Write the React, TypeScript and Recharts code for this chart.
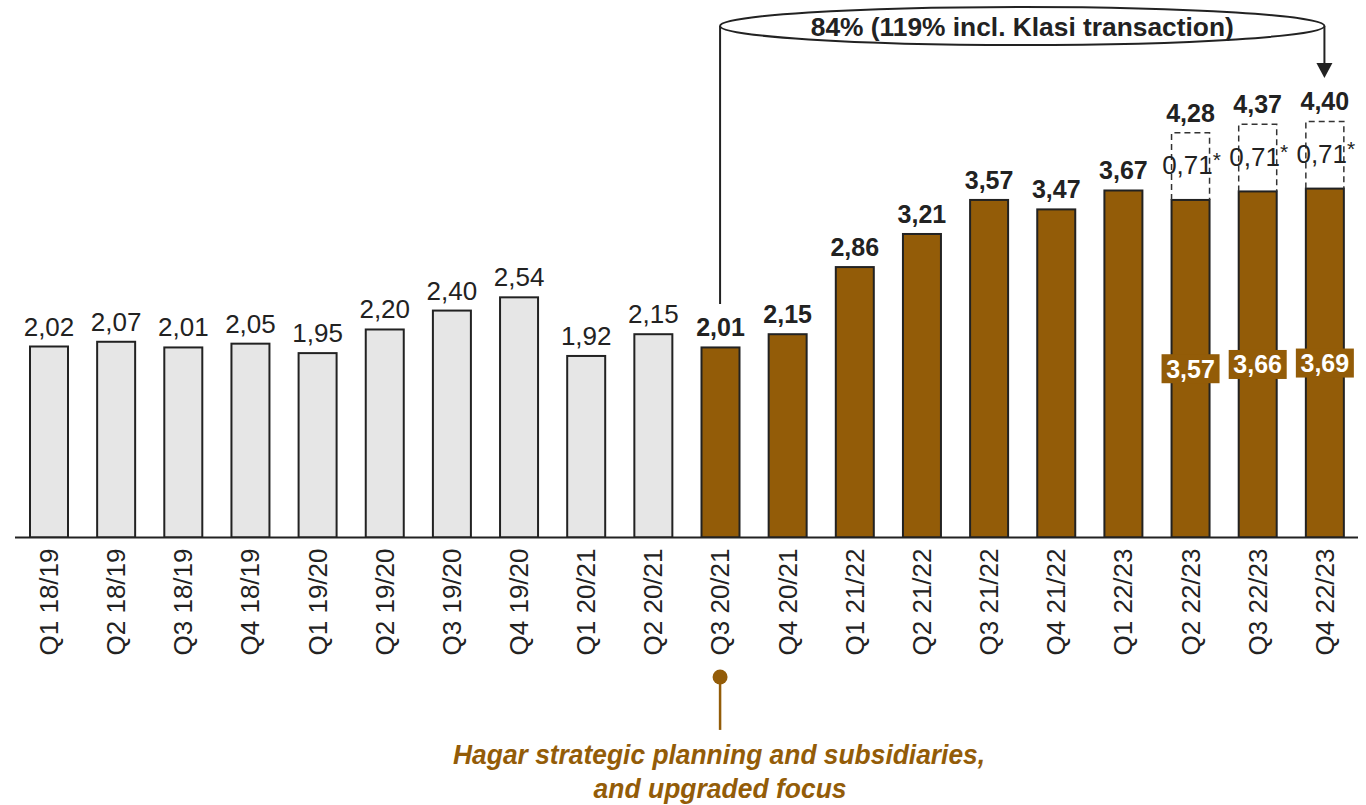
import React from 'react';
import { BarChart, Bar, XAxis, YAxis, ReferenceLine } from 'recharts';

const quarters = [
  'Q1 18/19', 'Q2 18/19', 'Q3 18/19', 'Q4 18/19',
  'Q1 19/20', 'Q2 19/20', 'Q3 19/20', 'Q4 19/20',
  'Q1 20/21', 'Q2 20/21', 'Q3 20/21', 'Q4 20/21',
  'Q1 21/22', 'Q2 21/22', 'Q3 21/22', 'Q4 21/22',
  'Q1 22/23', 'Q2 22/23', 'Q3 22/23', 'Q4 22/23',
];
const baseValues = [
  2.02, 2.07, 2.01, 2.05, 1.95, 2.2, 2.4, 2.54, 1.92, 2.15,
  2.01, 2.15, 2.86, 3.21, 3.57, 3.47, 3.67, 3.57, 3.66, 3.69,
];
const klasiValues: (number | null)[] = [
  null, null, null, null, null, null, null, null, null, null,
  null, null, null, null, null, null, null, 0.71, 0.71, 0.71,
];
const focusFlags = [
  false, false, false, false, false, false, false, false, false, false,
  true, true, true, true, true, true, true, true, true, true,
];
const growthLabel = '84% (119% incl. Klasi transaction)';
const noteLines = ['Hagar strategic planning and subsidiaries,', 'and upgraded focus'];
const startQuarter = 'Q3 20/21';
const endQuarter = 'Q4 22/23';

const data = quarters.map((q, i) => ({
  quarter: q,
  base: baseValues[i],
  klasi: klasiValues[i],
  focus: focusFlags[i],
  total: baseValues[i] + (klasiValues[i] ?? 0),
}));

const BROWN = '#935C08';
const GRAY = '#E6E6E6';
const DARK = '#222222';
const FONT = '"Liberation Sans", Arial, Helvetica, sans-serif';

const fmt = (v: number) => v.toFixed(2).replace('.', ',');

const BaseShape = (props: any) => {
  const { x, y, width, height, payload } = props;
  if (payload == null) return <g />;
  const fill = payload.focus ? BROWN : GRAY;
  const cx = x + width / 2;
  const stacked = payload.klasi != null;
  const mid = y + height / 2;
  return (
    <g>
      <rect x={x} y={y} width={width} height={height} fill={fill} stroke={DARK} strokeWidth={2} />
      {!stacked && (
        <text x={cx} y={y - 11} textAnchor="middle" fontSize={payload.focus ? 25 : 26} fontFamily={FONT}
          fontWeight={payload.focus ? 700 : 400} fill={DARK}>
          {fmt(payload.base)}
        </text>
      )}
      {stacked && (
        <g>
          <rect x={cx - 29} y={mid - 14.5} width={58} height={29} fill={BROWN} />
          <text x={cx} y={mid + 9} textAnchor="middle" fontSize={25} fontFamily={FONT}
            fontWeight={700} fill="#FFFFFF">
            {fmt(payload.base)}
          </text>
        </g>
      )}
    </g>
  );
};

const KlasiShape = (props: any) => {
  const { x, y, width, height, payload } = props;
  if (payload == null || payload.klasi == null || !(height > 0)) return <g />;
  const cx = x + width / 2;
  const mid = y + height / 2;
  return (
    <g>
      <path d={`M${x},${y + height} V${y} H${x + width} V${y + height}`} fill="none"
        stroke="#333" strokeWidth={1.5} strokeDasharray="6 4" />
      <text x={cx + 1} y={mid + 8} textAnchor="middle" fontSize={26} fontFamily={FONT} fill={DARK}>
        {fmt(payload.klasi)}
        <tspan fontSize={21} dy={-7}>*</tspan>
      </text>
      <text x={cx} y={y - 11} textAnchor="middle" fontSize={25} fontFamily={FONT}
        fontWeight={700} fill={DARK}>
        {fmt(payload.total)}
      </text>
    </g>
  );
};

const QuarterTick = (props: any) => {
  const { x, y, payload } = props;
  return (
    <g transform={`translate(${x},${y + 11}) rotate(-90)`}>
      <text x={0} y={0} dy="0.36em" textAnchor="end" fontSize={26} fontFamily={FONT} fill={DARK}>
        {payload.value}
      </text>
    </g>
  );
};

const EllipseShape = (props: any) => {
  const { x1, y1, x2 } = props;
  const cx = (x1 + x2) / 2;
  const rx = Math.abs(x2 - x1) / 2;
  return (
    <g>
      <ellipse cx={cx} cy={y1} rx={rx} ry={19} fill="#FFFFFF" stroke={DARK} strokeWidth={2} />
      <text x={cx} y={y1 + 10} textAnchor="middle" fontSize={26} fontWeight={700} fontFamily={FONT}
        fill={DARK} textLength={423} lengthAdjust="spacingAndGlyphs">
        {growthLabel}
      </text>
    </g>
  );
};

const ArrowShape = (props: any) => {
  const { x1, y1, y2 } = props;
  return (
    <g>
      <line x1={x1} y1={y1} x2={x1} y2={y2 - 14} stroke={DARK} strokeWidth={2} />
      <polygon points={`${x1 - 8},${y2 - 15} ${x1 + 8},${y2 - 15} ${x1},${y2}`} fill={DARK} />
    </g>
  );
};

const PlainLine = (props: any) => {
  const { x1, y1, x2, y2 } = props;
  return <line x1={x1} y1={y1} x2={x2} y2={y2} stroke={DARK} strokeWidth={2} />;
};

const NoteShape = (props: any) => {
  const { x1, y1, y2 } = props;
  return (
    <g>
      <line x1={x1} y1={y1} x2={x1} y2={y2} stroke={BROWN} strokeWidth={2.5} />
      <circle cx={x1} cy={y1} r={7.5} fill={BROWN} />
      <text x={x1 - 1} y={y2 + 34} textAnchor="middle" fontSize={27} fontWeight={700} fontStyle="italic"
        fontFamily={FONT} fill={BROWN} textLength={532} lengthAdjust="spacingAndGlyphs">
        {noteLines[0]}
      </text>
      <text x={x1} y={y2 + 68} textAnchor="middle" fontSize={27} fontWeight={700} fontStyle="italic"
        fontFamily={FONT} fill={BROWN} textLength={253} lengthAdjust="spacingAndGlyphs">
        {noteLines[1]}
      </text>
    </g>
  );
};

export default function App() {
  return (
    <div style={{ position: 'absolute', left: 0, top: 0, width: 1366, height: 805, background: '#fff' }}>
      <BarChart width={1366} height={805} data={data}
        margin={{ top: 8, right: 8, left: 15, bottom: 7.5 }} barSize={38}>
        <XAxis dataKey="quarter" interval={0} height={260} tickLine={false} tickSize={0} tickMargin={0}
          axisLine={{ stroke: DARK, strokeWidth: 2 }} tick={<QuarterTick />} />
        <YAxis hide domain={[0, 5.6]} allowDataOverflow />
        <Bar dataKey="base" stackId="a" isAnimationActive={false} shape={<BaseShape />} />
        <Bar dataKey="klasi" stackId="a" isAnimationActive={false} shape={<KlasiShape />} />
        <ReferenceLine ifOverflow="visible"
          segment={[{ x: startQuarter, y: 2.47 }, { x: startQuarter, y: 5.41 }]} shape={PlainLine} />
        <ReferenceLine ifOverflow="visible"
          segment={[{ x: endQuarter, y: 5.41 }, { x: endQuarter, y: 4.86 }]} shape={ArrowShape} />
        <ReferenceLine ifOverflow="visible"
          segment={[{ x: startQuarter, y: 5.41 }, { x: endQuarter, y: 5.41 }]} shape={EllipseShape} />
        <ReferenceLine ifOverflow="visible"
          segment={[{ x: startQuarter, y: -1.475 }, { x: startQuarter, y: -2.035 }]} shape={NoteShape} />
      </BarChart>
    </div>
  );
}
